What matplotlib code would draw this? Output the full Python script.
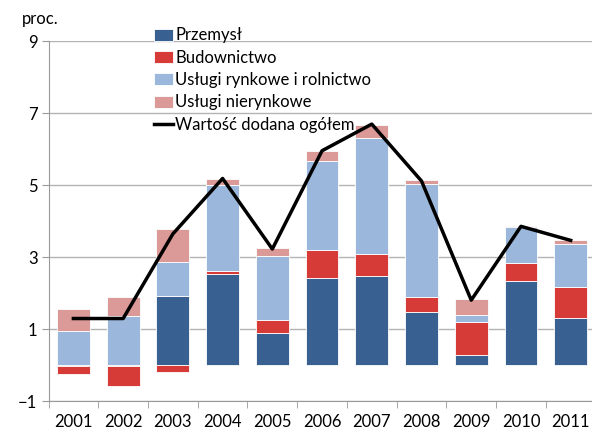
import matplotlib
matplotlib.use("Agg")
import matplotlib.pyplot as plt
import numpy as np

plt.rcParams["font.family"] = ["Lato", "DejaVu Sans"]

years = ["2001", "2002", "2003", "2004", "2005", "2006", "2007", "2008", "2009", "2010", "2011"]
przemysl = [-0.03, -0.03, 1.92, 2.55, 0.89, 2.43, 2.47, 1.47, 0.30, 2.33, 1.32]
budownictwo = [-0.22, -0.55, -0.19, 0.07, 0.38, 0.78, 0.63, 0.42, 0.89, 0.52, 0.86]
uslugi_rynkowe = [0.96, 1.36, 0.95, 2.38, 1.78, 2.46, 3.21, 3.15, 0.20, 0.98, 1.19]
uslugi_nierynkowe = [0.60, 0.54, 0.93, 0.17, 0.20, 0.28, 0.37, 0.11, 0.45, 0.05, 0.12]
wartosc_dodana = [1.30, 1.30, 3.65, 5.19, 3.23, 5.96, 6.70, 5.12, 1.81, 3.86, 3.47]

series = [
    ("Przemysł", przemysl, "#386192"),
    ("Budownictwo", budownictwo, "#d73b37"),
    ("Usługi rynkowe i rolnictwo", uslugi_rynkowe, "#9bb8dc"),
    ("Usługi nierynkowe", uslugi_nierynkowe, "#db9a98"),
]

fig = plt.figure(figsize=(5.92, 4.32), dpi=100)
ax = fig.add_axes([0.082, 0.071, 0.924, 0.8334])

x = np.arange(len(years))
pos_base = np.zeros(len(years))
neg_base = np.zeros(len(years))
for label, vals, color in series:
    vals = np.array(vals)
    base = np.where(vals >= 0, pos_base, neg_base)
    ax.bar(x, vals, bottom=base, width=0.66, color=color, label=label,
           edgecolor="white", linewidth=0.6, zorder=2)
    pos_base = pos_base + np.where(vals >= 0, vals, 0)
    neg_base = neg_base + np.where(vals < 0, vals, 0)

ax.plot(x, wartosc_dodana, color="black", linewidth=2.5, label="Wartość dodana ogółem", zorder=3)

ax.set_xlim(-0.5, len(years) - 0.5)
ax.set_ylim(-1, 9)
ax.set_yticks([-1, 1, 3, 5, 7, 9])
ax.yaxis.grid(True, color="#b3b3b3", linewidth=1, zorder=0)
ax.set_axisbelow(True)
ax.tick_params(axis="y", length=5, color="#999999", labelsize=12, pad=3)

ax.set_xticks(x)
ax.set_xticklabels(years)
ax.set_xticks(np.arange(-0.5, len(years), 1), minor=True)
ax.tick_params(axis="x", which="major", length=0, labelsize=12, pad=9)
ax.tick_params(axis="x", which="minor", length=5, color="#999999")

for side in ["top", "right"]:
    ax.spines[side].set_visible(False)
ax.spines["left"].set_color("#999999")
ax.spines["bottom"].set_color("#999999")

fig.text(0.037, 0.945, "proc.", fontsize=12)

# line entry goes last in the legend
handles, labels = ax.get_legend_handles_labels()
handles = handles[1:] + handles[:1]
labels = labels[1:] + labels[:1]
ax.legend(handles, labels, loc="upper left", bbox_to_anchor=(0.18, 1.057), frameon=False,
          fontsize=12, handlelength=1.15, handleheight=0.75, handletextpad=0.15,
          labelspacing=0.38, borderaxespad=0)

fig.savefig("out.png", dpi=100)
